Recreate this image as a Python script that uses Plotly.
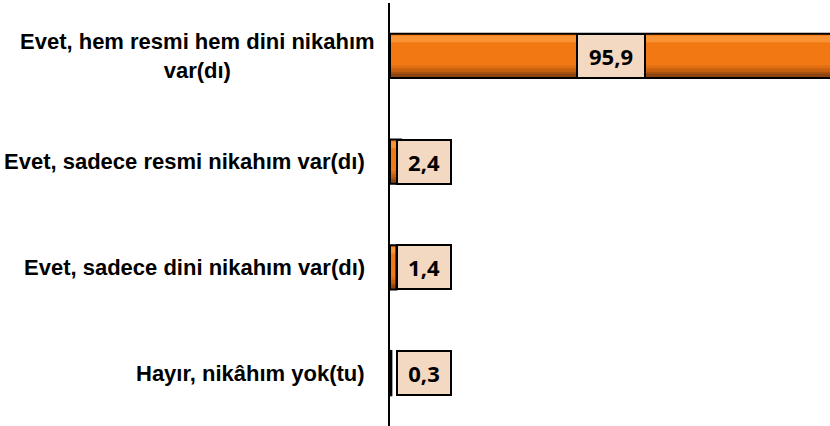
import plotly.graph_objects as go

categories = [
    "Evet, hem resmi hem dini nikahım<br>var(dı)",
    "Evet, sadece resmi nikahım var(dı)",
    "Evet, sadece dini nikahım var(dı)",
    "Hayır, nikâhım yok(tu)",
]
values = [95.9, 2.4, 1.4, 0.3]
value_labels = ["95,9", "2,4", "1,4", "0,3"]

BW = 0.42
fig = go.Figure()

# layered bars to imitate the bevelled orange fill
layers = [
    ("#A9530F", -BW / 2, BW),
    ("#F27814", -BW / 2, 0.33),
    ("#F99333", -BW / 2 + 0.02, 0.06),
    ("#E06E12", 0.09, 0.03),
    ("#C8600F", 0.12, 0.03),
    ("#8E4410", 0.17, 0.04),
]
for color, off, w in layers:
    fig.add_trace(go.Bar(
        x=values, y=categories, orientation="h",
        width=w, offset=off,
        marker=dict(color=color, line=dict(width=0)),
        hoverinfo="skip", showlegend=False,
    ))
# outline
fig.add_trace(go.Bar(
    x=values, y=categories, orientation="h",
    width=BW, offset=-BW / 2,
    marker=dict(color="rgba(0,0,0,0)", line=dict(color="black", width=2)),
    hoverinfo="skip", showlegend=False,
))

annotations = []
for i, (cat, v, lab) in enumerate(zip(categories, values, value_labels)):
    label_font = dict(family="Liberation Sans, Arial, sans-serif", size=22, color="black")
    if "<br>" in cat:
        annotations.append(dict(
            x=0, xref="paper", y=cat, yref="y",
            text="<b>" + cat.replace("<br>", "</b><br><b>") + "</b>", showarrow=False,
            xanchor="center", align="center", xshift=-193,
            font=label_font,
        ))
    else:
        annotations.append(dict(
            x=0, xref="paper", y=cat, yref="y", text="<b>" + cat + "</b>", showarrow=False,
            xanchor="right", align="right", xshift=-23,
            font=label_font,
        ))
    big = v > 10
    annotations.append(dict(
        x=v / 2 if big else 0, y=cat, xref="x", yref="y",
        text="<b>" + lab + "</b>", showarrow=False,
        xanchor="center" if big else "left", xshift=0 if big else 6,
        width=48 if len(lab) > 3 else 34, height=24,
        bgcolor="#F3D8C2", bordercolor="black", borderwidth=2, borderpad=9,
        font=dict(family="Open Sans, sans-serif", size=22, color="black"),
    ))

fig.update_layout(
    width=830, height=426,
    margin=dict(l=390, r=0, t=3, b=0, autoexpand=False),
    barmode="overlay",
    plot_bgcolor="white", paper_bgcolor="white",
    template="none",
    annotations=annotations,
    xaxis=dict(range=[0, 95.5], visible=False, fixedrange=True),
    yaxis=dict(autorange="reversed", showticklabels=False, ticks="",
               showgrid=False, zeroline=False, automargin=False, fixedrange=True,
               showline=True, linecolor="black", linewidth=2),
    font=dict(family="Liberation Sans, Arial, sans-serif"),
)

fig.write_html("out.html", config={"displayModeBar": False},
               post_script="document.body.style.margin='0';")
